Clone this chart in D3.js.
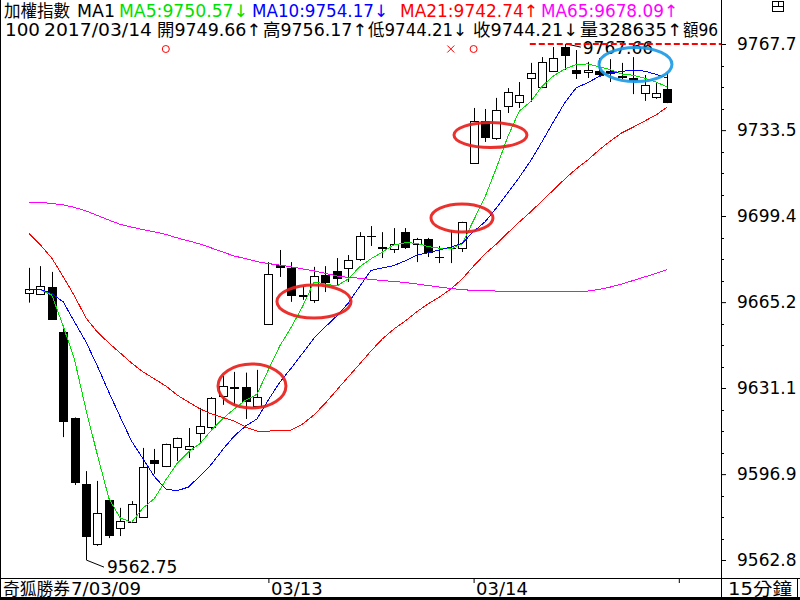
<!DOCTYPE html>
<html>
<head>
<meta charset="utf-8">
<script src="https://cdn.jsdelivr.net/npm/d3@7/dist/d3.min.js"></script>
<style>
body { margin: 0; background: #fff; }
svg { display: block; font-family: "DejaVu Sans", "Noto Sans CJK TC", sans-serif; }
</style>
</head>
<body>
<svg id="chart" width="800" height="600"></svg>
<script>
// 15 minute bars, 加權指數
var opens  = [9668.8, 9668.3, 9671.2, 9653.3, 9619.2, 9593.0, 9569.2, 9586.6, 9575.5, 9577.9,
              9579.9, 9602.5, 9600.1, 9607.7, 9606.9, 9613.2, 9615.6, 9627.9, 9631.5, 9631.5,
              9624.0, 9656.5, 9679.9, 9678.8, 9668.0, 9666.1, 9676.0, 9677.6, 9678.8, 9682.3,
              9691.5, 9687.1, 9686.3, 9693.0, 9688.3, 9690.3, 9683.3, 9686.7, 9686.7, 9720.4,
              9737.1, 9730.4, 9743.1, 9744.7, 9754.2, 9750.6, 9757.0, 9766.5, 9757.4, 9756.6,
              9757.0, 9757.0, 9754.8, 9754.2, 9748.2, 9746.7, 9749.66];
var highs  = [9678.8, 9679.5, 9677.2, 9656.1, 9619.4, 9598.1, 9594.2, 9586.8, 9583.5, 9586.2,
              9607.3, 9606.9, 9609.0, 9611.4, 9615.2, 9623.2, 9627.5, 9635.9, 9637.5, 9637.2,
              9638.3, 9681.1, 9685.9, 9681.1, 9671.6, 9679.2, 9679.5, 9682.7, 9683.9, 9693.0,
              9695.4, 9693.0, 9694.6, 9694.6, 9690.7, 9690.7, 9687.5, 9693.8, 9697.1, 9742.3,
              9741.9, 9746.3, 9750.2, 9752.6, 9760.2, 9762.5, 9766.5, 9767.66, 9765.3, 9760.6,
              9762.1, 9761.7, 9760.2, 9762.5, 9755.4, 9752.2, 9756.17];
var lows   = [9665.0, 9668.0, 9658.1, 9611.6, 9592.6, 9562.75, 9568.4, 9571.5, 9572.3, 9577.5,
              9579.5, 9597.0, 9599.7, 9602.1, 9603.3, 9608.9, 9614.4, 9624.4, 9624.0, 9618.8,
              9623.6, 9656.1, 9675.2, 9665.3, 9666.1, 9664.9, 9669.2, 9672.0, 9673.2, 9681.5,
              9687.5, 9682.7, 9684.7, 9686.3, 9681.1, 9683.1, 9680.7, 9680.7, 9685.1, 9720.3,
              9728.8, 9729.6, 9740.3, 9742.3, 9744.7, 9750.2, 9756.9, 9757.4, 9753.8, 9754.2,
              9755.0, 9752.6, 9753.8, 9747.8, 9745.1, 9745.9, 9744.21];
var closes = [9670.4, 9671.5, 9658.2, 9617.7, 9593.4, 9571.9, 9581.5, 9572.3, 9578.3, 9585.0,
              9599.7, 9600.9, 9608.9, 9611.3, 9608.1, 9616.0, 9627.1, 9631.9, 9630.9, 9625.5,
              9627.5, 9676.4, 9678.8, 9667.6, 9667.4, 9675.6, 9672.8, 9674.4, 9681.9, 9691.5,
              9691.4, 9686.3, 9688.3, 9686.7, 9690.3, 9684.7, 9683.2, 9686.6, 9697.0, 9737.1,
              9730.4, 9741.5, 9748.6, 9747.4, 9756.2, 9760.6, 9762.1, 9762.9, 9755.8, 9757.4,
              9755.4, 9755.8, 9754.7, 9753.0, 9751.4, 9748.2, 9744.21];

var ma5  = [9670.3, 9670.2, 9668.0, 9655.7, 9642.2, 9622.5, 9604.5, 9587.4, 9579.5, 9577.8,
            9583.4, 9587.2, 9594.6, 9601.2, 9605.8, 9609.0, 9614.3, 9618.9, 9622.8, 9626.3,
            9628.6, 9638.4, 9647.8, 9655.2, 9663.5, 9673.2, 9672.4, 9671.6, 9674.4, 9679.2,
            9682.4, 9685.1, 9687.9, 9688.8, 9688.6, 9687.3, 9686.6, 9686.3, 9688.4, 9697.7,
            9706.9, 9718.5, 9730.9, 9741.0, 9744.8, 9750.9, 9755.0, 9757.8, 9759.5, 9759.8,
            9758.7, 9757.5, 9755.8, 9755.3, 9754.1, 9752.6, 9750.57];
var ma10 = [9670.0, 9670.3, 9668.6, 9665.3, 9657.3, 9649.4, 9639.8, 9629.5, 9619.6, 9610.0,
            9603.0, 9595.9, 9591.0, 9590.3, 9591.8, 9596.2, 9600.8, 9606.7, 9612.0, 9616.0,
            9618.8, 9626.4, 9633.4, 9639.0, 9644.9, 9650.9, 9655.4, 9659.7, 9664.8, 9671.4,
            9677.8, 9678.8, 9679.7, 9681.6, 9683.9, 9684.8, 9685.9, 9687.1, 9688.6, 9693.2,
            9697.1, 9702.6, 9708.6, 9714.7, 9721.3, 9728.9, 9736.8, 9744.4, 9750.3, 9752.3,
            9754.8, 9756.2, 9756.8, 9757.4, 9756.9, 9755.7, 9754.17];
var ma21 = [9692.5, 9687.9, 9682.7, 9675.3, 9667.6, 9658.9, 9653.3, 9649.0, 9645.0, 9641.0,
            9637.5, 9634.7, 9631.9, 9628.3, 9625.5, 9622.8, 9620.8, 9619.4, 9618.0, 9615.6,
            9614.0, 9614.0, 9614.2, 9614.4, 9616.8, 9620.4, 9625.1, 9630.3, 9635.5, 9640.6,
            9645.8, 9650.6, 9654.5, 9657.7, 9661.3, 9664.5, 9667.2, 9670.4, 9674.4, 9679.5,
            9684.3, 9688.3, 9692.7, 9697.0, 9701.0, 9705.4, 9709.7, 9714.1, 9718.1, 9721.6,
            9725.6, 9729.2, 9732.4, 9734.7, 9737.1, 9739.5, 9742.74];
var ma65 = [9704.8, 9704.8, 9704.4, 9703.8, 9702.8, 9701.4, 9699.6, 9697.8, 9696.1, 9695.0,
            9694.0, 9693.1, 9692.1, 9690.7, 9689.5, 9688.3, 9686.7, 9685.1, 9683.5, 9682.5,
            9681.3, 9680.5, 9679.9, 9679.2, 9678.4, 9677.6, 9676.6, 9675.6, 9675.0, 9674.7,
            9674.2, 9673.8, 9673.4, 9673.0, 9672.4, 9671.8, 9671.2, 9670.6, 9670.2, 9669.8,
            9669.7, 9669.6, 9669.6, 9669.6, 9669.6, 9669.5, 9669.5, 9669.5, 9669.5, 9669.6,
            9670.2, 9671.2, 9672.4, 9673.8, 9675.2, 9676.6, 9678.09];

var maColors = ["#00e000", "#0000ff", "#ff0000", "#ff00ff"];
var maNames = ["MA5", "MA10", "MA21", "MA65"];
var maArrows = ["↓", "↓", "↑", "↑"];

var yTicks = [9767.7, 9733.5, 9699.4, 9665.2, 9631.1, 9596.9, 9562.8];
var dayTicks = [21, 39, 57];
var dayLabels = ["03/13", "03/14", ""];

var lastVolume = 328635;
var lastAmount = "96";
var lastDate = "2017/03/14";

// signal markers above the bars
var markers = [{ i: 12, t: "o" }, { i: 37, t: "x" }, { i: 39, t: "o" }];

// hand drawn circles: centre index / price and half sizes
var rings = [
    { i: 19.56, p: 9631.9, di: 2.98, dp: 8.74, c: "#e8201c" },
    { i: 25.0, p: 9665.45, di: 3.25, dp: 6.55, c: "#e8201c" },
    { i: 37.98, p: 9698.6, di: 2.72, dp: 5.56, c: "#e8201c" },
    { i: 40.48, p: 9731.56, di: 3.2, dp: 4.96, c: "#e8201c" },
    { i: 53.2, p: 9759.56, di: 3.2, dp: 6.75, c: "#1e9be6" }
];

var svg = d3.select("#chart");
var plotRight = 721, plotBottom = 578;

var x = d3.scaleLinear().domain([0, 56]).range([29, 667.4]);
var y = d3.scaleLinear().domain([9562.8, 9767.7]).range([560, 44]);

svg.append("defs").append("clipPath").attr("id", "plotclip")
    .append("rect").attr("x", 1).attr("y", 0).attr("width", plotRight - 1).attr("height", plotBottom);

var plot = svg.append("g").attr("clip-path", "url(#plotclip)");

var idx = d3.range(opens.length);

// wicks
plot.selectAll(".wick")
    .data(idx).enter()
    .append("line")
    .attr("class", "wick")
    .attr("x1", function (i) { return Math.round(x(i)) + 0.5; })
    .attr("x2", function (i) { return Math.round(x(i)) + 0.5; })
    .attr("y1", function (i) { return y(highs[i]); })
    .attr("y2", function (i) { return y(lows[i]); })
    .attr("stroke", "#000")
    .attr("stroke-width", 1);

// bodies
plot.selectAll(".body")
    .data(idx).enter()
    .append("rect")
    .attr("class", "body")
    .attr("shape-rendering", "crispEdges")
    .each(function (i) {
        var up = closes[i] > opens[i];
        var top = y(Math.max(opens[i], closes[i]));
        var h = Math.abs(y(opens[i]) - y(closes[i]));
        var cx = Math.round(x(i));
        if (up) {
            d3.select(this)
                .attr("x", cx - 4 + 0.5).attr("width", 8)
                .attr("y", Math.round(top) + 0.5).attr("height", Math.max(Math.round(h), 1))
                .attr("fill", "#fff").attr("stroke", "#000");
        } else {
            d3.select(this)
                .attr("x", cx - 4).attr("width", 9)
                .attr("y", top).attr("height", Math.max(h, 1.5))
                .attr("fill", "#000");
        }
    });

// moving averages
var maData = [ma5, ma10, ma21, ma65];
var line = d3.line()
    .x(function (d, i) { return x(i); })
    .y(function (d) { return y(d); });

plot.selectAll(".ma")
    .data(maData).enter()
    .append("path")
    .attr("class", "ma")
    .attr("d", line)
    .attr("fill", "none")
    .attr("stroke", function (d, k) { return maColors[k]; })
    .attr("stroke-width", 1)
    .attr("shape-rendering", "crispEdges");

// highest / lowest marks
var hiIdx = d3.maxIndex(highs), loIdx = d3.minIndex(lows);

plot.append("line")
    .attr("x1", x(hiIdx) + 2).attr("y1", y(highs[hiIdx]))
    .attr("x2", x(hiIdx) + 16).attr("y2", y(highs[hiIdx]) + 3)
    .attr("stroke", "#000");
plot.append("text")
    .attr("x", x(hiIdx) + 18).attr("y", y(highs[hiIdx]) + 10)
    .style("font-size", "17px")
    .text(d3.format(".2f")(highs[hiIdx]));

plot.append("line")
    .attr("x1", x(hiIdx) - 35).attr("x2", plotRight)
    .attr("y1", y(highs[hiIdx])).attr("y2", y(highs[hiIdx]))
    .attr("stroke", "#ff0000").attr("stroke-width", 2)
    .attr("stroke-dasharray", "6,3");

plot.append("line")
    .attr("x1", x(loIdx) + 0.5).attr("y1", y(lows[loIdx]))
    .attr("x2", x(loIdx) + 18).attr("y2", y(lows[loIdx]) + 7)
    .attr("stroke", "#000");
plot.append("text")
    .attr("x", x(loIdx) + 21).attr("y", y(lows[loIdx]) + 12.5)
    .style("font-size", "17px")
    .text(d3.format(".2f")(lows[loIdx]));

// signal markers
markers.forEach(function (m) {
    var mx = x(m.i), my = 49;
    if (m.t === "o") {
        plot.append("circle").attr("cx", mx).attr("cy", my).attr("r", 3.5)
            .attr("fill", "none").attr("stroke", "#ff0000");
    } else {
        plot.append("path")
            .attr("d", "M" + (mx - 3.5) + "," + (my - 3.5) + "L" + (mx + 3.5) + "," + (my + 3.5) +
                "M" + (mx + 3.5) + "," + (my - 3.5) + "L" + (mx - 3.5) + "," + (my + 3.5))
            .attr("stroke", "#ff0000");
    }
});

// circles drawn over the chart
plot.selectAll(".ring")
    .data(rings).enter()
    .append("ellipse")
    .attr("class", "ring")
    .attr("cx", function (d) { return x(d.i); })
    .attr("cy", function (d) { return y(d.p); })
    .attr("rx", function (d) { return x(d.i + d.di) - x(d.i); })
    .attr("ry", function (d) { return y(d.p - d.dp) - y(d.p); })
    .attr("fill", "none")
    .attr("stroke", function (d) { return d.c; })
    .attr("stroke-width", 3)
    .attr("opacity", 0.92);

// price axis
var yAxis = d3.axisRight(y)
    .tickValues(yTicks)
    .tickSize(5)
    .tickPadding(11)
    .tickFormat(d3.format(".1f"));

var ya = svg.append("g")
    .attr("transform", "translate(" + plotRight + ",0)")
    .call(yAxis);
ya.select(".domain").remove();
ya.selectAll("text").style("font-size", "17px").attr("fill", "#000").style("font-family", "DejaVu Sans");
ya.selectAll("line").attr("stroke", "#000");

// minor ticks
for (var k = 0; k < yTicks.length - 1; k++) {
    for (var q = 1; q < 4; q++) {
        var v = yTicks[k] + (yTicks[k + 1] - yTicks[k]) * q / 4;
        svg.append("line")
            .attr("x1", plotRight + 1).attr("x2", plotRight + 3)
            .attr("y1", Math.round(y(v)) + 0.5).attr("y2", Math.round(y(v)) + 0.5)
            .attr("stroke", "#000");
    }
}

// time axis
var xAxis = d3.axisBottom(x)
    .tickValues(dayTicks)
    .tickSize(5)
    .tickFormat(function (d, i) { return dayLabels[i]; });

var xa = svg.append("g")
    .attr("transform", "translate(0," + plotBottom + ")")
    .call(xAxis);
xa.select(".domain").remove();
xa.selectAll("line").attr("stroke", "#000");
xa.selectAll("text")
    .attr("text-anchor", "start")
    .attr("x", 2).attr("y", 17).attr("dy", 0)
    .attr("fill", "#000")
    .style("font-size", "18px")
    .style("font-family", "DejaVu Sans");

// frame lines
svg.append("line").attr("x1", 0).attr("x2", 800).attr("y1", plotBottom + 0.5).attr("y2", plotBottom + 0.5).attr("stroke", "#000");
svg.append("line").attr("x1", plotRight + 0.5).attr("x2", plotRight + 0.5).attr("y1", 0).attr("y2", 599).attr("stroke", "#000");
svg.append("line").attr("x1", 0.5).attr("x2", 0.5).attr("y1", 0).attr("y2", 599).attr("stroke", "#000");
svg.append("line").attr("x1", 797.5).attr("x2", 797.5).attr("y1", plotBottom).attr("y2", 599).attr("stroke", "#000");
svg.append("line").attr("x1", 0).attr("x2", 800).attr("y1", 598.5).attr("y2", 598.5).attr("stroke", "#000").attr("stroke-width", 3);

svg.append("text").attr("x", 3).attr("y", 595).style("font-size", "17px")
    .attr("textLength", 67).attr("lengthAdjust", "spacingAndGlyphs").text("奇狐勝券");
svg.append("text").attr("x", 71).attr("y", 595).style("font-size", "18px")
    .attr("textLength", 70).attr("lengthAdjust", "spacingAndGlyphs").text("7/03/09");
svg.append("text").attr("x", 728).attr("y", 595).style("font-size", "17px")
    .attr("textLength", 64).attr("lengthAdjust", "spacingAndGlyphs").text("15分鐘");

// little window icon
var ic = svg.append("g").attr("fill", "none").attr("stroke", "#000").attr("shape-rendering", "crispEdges");
ic.append("rect").attr("x", 772.5).attr("y", 1.5).attr("width", 11).attr("height", 10);
ic.append("line").attr("x1", 772).attr("x2", 784).attr("y1", 6.5).attr("y2", 6.5);
ic.append("line").attr("x1", 778.5).attr("x2", 778.5).attr("y1", 1).attr("y2", 7);

// header
var fmt2 = d3.format(".2f");
var last = opens.length - 1;

function headText(tx, ty, str, w, col) {
    svg.append("text")
        .attr("x", tx).attr("y", ty)
        .attr("fill", col || "#000")
        .attr("textLength", w).attr("lengthAdjust", "spacingAndGlyphs")
        .style("font-size", "17px")
        .text(str);
}

headText(4, 17, "加權指數", 66);
headText(77, 17, "MA1", 38);
var maStarts = [119, 252, 400, 541], maWidths = [129, 136, 138, 137];
maData.forEach(function (s, k) {
    headText(maStarts[k], 17, maNames[k] + ":" + fmt2(s[s.length - 1]) + maArrows[k], maWidths[k], maColors[k]);
});

headText(5, 36, "100", 35);
headText(44, 36, lastDate, 108);
headText(157, 36, "開" + fmt2(opens[last]) + "↑", 104);
headText(263, 36, "高" + fmt2(highs[last]) + "↑", 104);
headText(368, 36, "低" + fmt2(lows[last]) + "↓", 99);
headText(473, 36, "收" + fmt2(closes[last]) + "↓", 105);
headText(580, 36, "量" + lastVolume + "↑", 102);
headText(683, 36, "額" + lastAmount, 35);
</script>
</body>
</html>
